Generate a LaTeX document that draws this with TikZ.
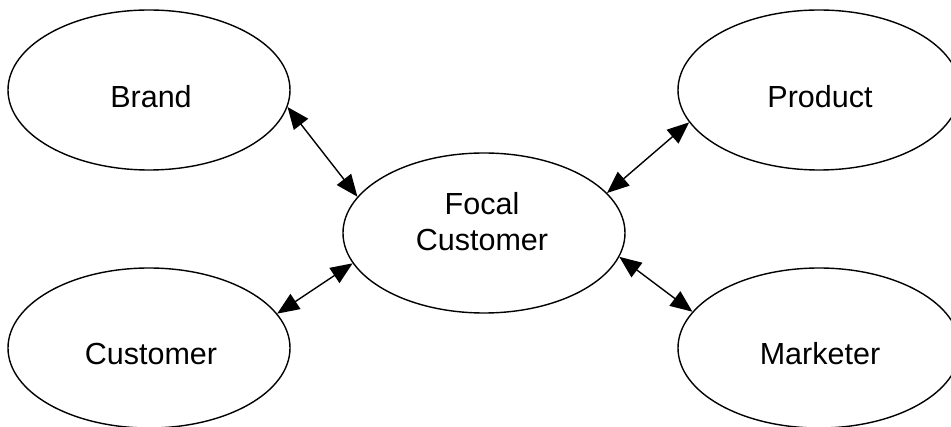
\documentclass[tikz,border=0pt]{standalone}
\usepackage{fontspec}
\setmainfont{Liberation Sans}
\usetikzlibrary{shapes.geometric,arrows.meta}
\begin{document}
\begin{tikzpicture}[x=1pt,y=-1pt,
  oval/.style={ellipse,draw,line width=1.4pt,minimum width=282pt,minimum height=160pt,inner sep=0pt},
  lbl/.style={anchor=base,inner sep=0pt,font=\fontsize{30.5}{36}\selectfont},
  link/.style={line width=1.4pt,{Triangle[length=22pt,width=18pt]}-{Triangle[length=22pt,width=18pt]}}]
\useasboundingbox (0,0) rectangle (951,427);
\node[oval] (brand) at (149,90) {};
\node[oval] (product) at (819,90) {};
\node[oval] (customer) at (149,348) {};
\node[oval] (marketer) at (819,348) {};
\node[oval] (focal) at (484,233) {};
\node[lbl] (tbrand) at (151,108) {Brand};
\node[lbl] (tproduct) at (820,108) {Product};
\node[lbl] (tcustomer) at (151,365) {Customer};
\node[lbl] (tmarketer) at (820,365) {Marketer};
\node[lbl] (tfocal1) at (482,215) {Focal};
\node[lbl] (tfocal2) at (482,251) {Customer};
\draw[link] (brand.-7) -- (focal.164.6);
\draw[link] (customer.15.9) -- (focal.193.3);
\draw[link] (product.194.8) -- (focal.18.4);
\draw[link] (marketer.164.6) -- (focal.-10.7);
\end{tikzpicture}
\end{document}
